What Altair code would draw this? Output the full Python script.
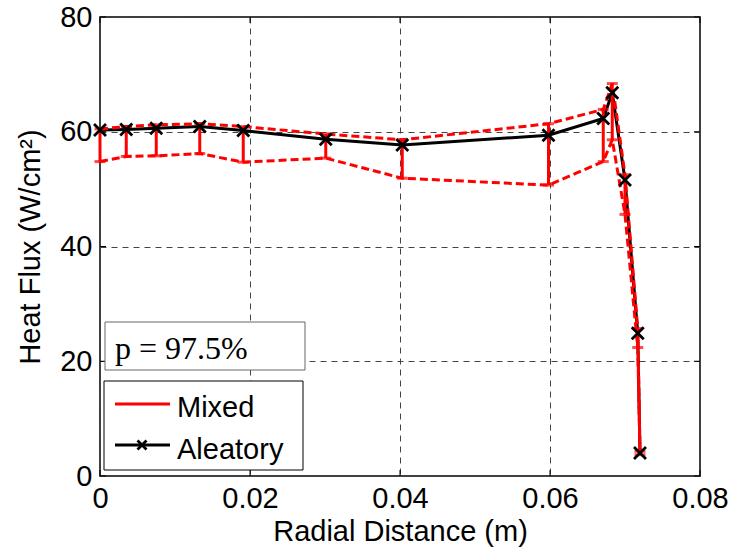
import altair as alt
import pandas as pd

# ---- data ----
radial = [0.0, 0.0035, 0.0075, 0.0133, 0.0191, 0.0301, 0.0403, 0.0598, 0.0671, 0.0683, 0.0700, 0.0717, 0.0720]
aleatory = [60.3, 60.4, 60.6, 60.9, 60.2, 58.7, 57.7, 59.4, 62.3, 66.8, 51.6, 24.9, 4.0]
mixed_upper = [60.5, 60.9, 61.2, 61.4, 60.9, 59.6, 58.6, 61.4, 63.9, 68.4, 52.5, 25.7, 4.3]
mixed_lower = [54.8, 55.7, 55.8, 56.2, 54.7, 55.4, 51.9, 50.7, 54.8, 58.6, 45.6, 22.4, 3.7]

x_ticks = [0, 0.02, 0.04, 0.06, 0.08]
y_ticks = [0, 20, 40, 60, 80]
legend_labels = ["Mixed", "Aleatory"]
annotation = ["p = 97.5%"]

df = pd.DataFrame({"x": radial, "al": aleatory, "up": mixed_upper, "lo": mixed_lower})
xt = pd.DataFrame({"t": x_ticks})
yt = pd.DataFrame({"t": y_ticks})

W, H = 600, 459
RED = "#ff0000"
xs = alt.Scale(domain=[0, 0.08], nice=False, zero=False)
ys = alt.Scale(domain=[0, 80], nice=False, zero=False)
xa = alt.Axis(values=x_ticks, format=".2~f", title="Radial Distance (m)", labelFlush=False)
ya = alt.Axis(values=y_ticks, format="d", title="Heat Flux (W/cm²)", labelFlush=False)

def X(f):
    return alt.X(f"{f}:Q", scale=xs, axis=xa)

def Y(f):
    return alt.Y(f"{f}:Q", scale=ys, axis=ya)

base = alt.Chart(df)

black_line = base.mark_line(color="black", strokeWidth=3).encode(x=X("x"), y=Y("al"))
upper_line = base.mark_line(color=RED, strokeWidth=3, strokeDash=[8, 4]).encode(x=X("x"), y=Y("up"))
lower_line = base.mark_line(color=RED, strokeWidth=3, strokeDash=[8, 4]).encode(x=X("x"), y=Y("lo"))
bars = base.mark_rule(color=RED, strokeWidth=3).encode(x=X("x"), y=Y("lo"), y2="up:Q")
cap_lo = base.mark_tick(color=RED, orient="horizontal", size=11, thickness=3).encode(x=X("x"), y=Y("lo"))
cap_up = base.mark_tick(color=RED, orient="horizontal", size=11, thickness=3).encode(x=X("x"), y=Y("up"))
XPATH = "M-1,-1L1,1M-1,1L1,-1"
markers = base.mark_point(shape=XPATH, filled=False, color="black", strokeWidth=2.8, size=144, opacity=1).encode(
    x=X("x"), y=Y("al"))

# inward ticks (MATLAB style)
xt_b = alt.Chart(xt).mark_rule(color="black", strokeWidth=1).encode(x=X("t"), y=alt.value(H), y2=alt.value(H - 6))
xt_t = alt.Chart(xt).mark_rule(color="black", strokeWidth=1).encode(x=X("t"), y=alt.value(0), y2=alt.value(6))
yt_l = alt.Chart(yt).mark_rule(color="black", strokeWidth=1).encode(y=Y("t"), x=alt.value(0), x2=alt.value(6))
yt_r = alt.Chart(yt).mark_rule(color="black", strokeWidth=1).encode(y=Y("t"), x=alt.value(W), x2=alt.value(W - 6))

# annotation box
ann = pd.DataFrame({"label": annotation})
ann_box = alt.Chart(ann).mark_rect(fill="white", stroke="#666666", strokeWidth=1).encode(
    x=alt.value(5), x2=alt.value(205), y=alt.value(305), y2=alt.value(353))
ann_txt = alt.Chart(ann).mark_text(font="Liberation Serif", fontSize=32, align="left", baseline="alphabetic",
                                   color="black").encode(x=alt.value(15), y=alt.value(342), text="label:N")

# legend
leg = pd.DataFrame({"label": legend_labels})
leg_box = alt.Chart(leg.head(1)).mark_rect(fill="white", stroke="black", strokeWidth=1).encode(
    x=alt.value(4), x2=alt.value(203), y=alt.value(364), y2=alt.value(453))
leg_l1 = alt.Chart(leg.head(1)).mark_rule(color=RED, strokeWidth=3).encode(
    x=alt.value(15), x2=alt.value(70), y=alt.value(387))
leg_l2 = alt.Chart(leg.head(1)).mark_rule(color="black", strokeWidth=3).encode(
    x=alt.value(15), x2=alt.value(70), y=alt.value(428))
leg_m2 = alt.Chart(leg.head(1)).mark_point(shape=XPATH, filled=False, color="black", strokeWidth=2.8, size=81,
                                           opacity=1).encode(x=alt.value(42), y=alt.value(428))
leg_t1 = alt.Chart(leg.iloc[[0]]).mark_text(font="Liberation Sans", fontSize=29, align="left",
                                            baseline="alphabetic", color="black").encode(
    x=alt.value(77), y=alt.value(400), text="label:N")
leg_t2 = alt.Chart(leg.iloc[[1]]).mark_text(font="Liberation Sans", fontSize=29, align="left",
                                            baseline="alphabetic", color="black").encode(
    x=alt.value(77), y=alt.value(442), text="label:N")

chart = alt.layer(
    black_line, upper_line, lower_line, bars, cap_lo, cap_up, markers,
    xt_b, xt_t, yt_l, yt_r,
    ann_box, ann_txt, leg_box, leg_l1, leg_l2, leg_m2, leg_t1, leg_t2,
).properties(
    width=W, height=H,
    autosize=alt.AutoSizeParams(type="none"),
    padding={"left": 100, "top": 17, "right": 30, "bottom": 75},
    background="white",
).configure_view(
    stroke="black", strokeWidth=1.5
).configure_axis(
    labelFont="Liberation Sans", labelFontSize=29, labelColor="black",
    titleFont="Liberation Sans", titleFontSize=29, titleFontWeight="normal", titleColor="black",
    grid=True, gridColor="#444444", gridDash=[6, 5], gridWidth=1, gridOpacity=1,
    ticks=False, tickSize=0, domain=False,
).configure_axisX(
    labelPadding=8, titlePadding=4,
).configure_axisY(
    labelPadding=8, titlePadding=14,
)

chart.save("out.html", embed_options={"renderer": "svg", "actions": False})
